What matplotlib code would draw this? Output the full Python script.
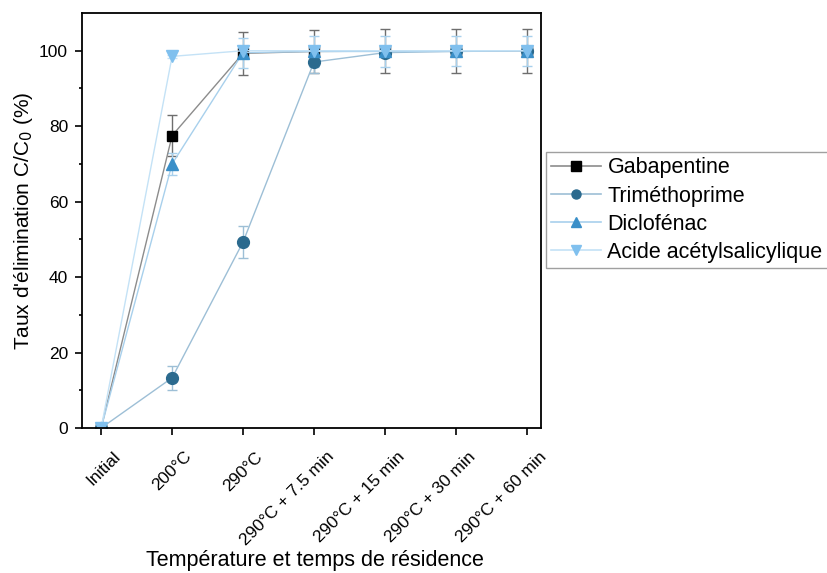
import matplotlib
matplotlib.use('Agg')
import matplotlib.pyplot as plt
import matplotlib.transforms as mtransforms
from matplotlib.lines import Line2D
import numpy as np

plt.rcParams['font.family'] = ['Liberation Sans', 'DejaVu Sans']

conditions = ['Initial', '200°C', '290°C', '290°C + 7.5 min', '290°C + 15 min',
              '290°C + 30 min', '290°C + 60 min']

gabapentine = [0, 77.5, 99.3, 99.8, 99.9, 99.9, 100.0]
gabapentine_err = [0, 5.5, 5.7, 5.8, 5.8, 5.8, 5.8]
trimethoprime = [0, 13.3, 49.3, 97.0, 99.5, 99.8, 100.0]
trimethoprime_err = [0, 3.2, 4.2, 3.0, 1.0, 1.0, 1.0]
diclofenac = [0, 70.0, 99.5, 99.8, 99.8, 99.9, 100.0]
diclofenac_err = [0, 3.0, 4.0, 4.0, 4.0, 4.0, 4.0]
acide = [0, 98.5, 100.0, 100.0, 100.0, 100.0, 100.0]
acide_err = [0, 0.5, 0.5, 0.5, 0.5, 0.5, 0.5]

# name, values, errors, marker, marker colour, line colour, error colour, size
series = [
    ('Gabapentine', gabapentine, gabapentine_err, 's', '#000000', '#8c8c8c', '#6e6e6e', 7.5),
    ('Triméthoprime', trimethoprime, trimethoprime_err, 'o', '#2b6a8e', '#9dbfd6', '#9dbfd6', 8.5),
    ('Diclofénac', diclofenac, diclofenac_err, '^', '#3a8fc8', '#a8d0ec', '#a8d0ec', 8.5),
    ('Acide acétylsalicylique', acide, acide_err, 'v', '#80c0ee', '#c4e2f6', '#c4e2f6', 8.5),
]

fig = plt.figure(figsize=(8.27, 5.73), dpi=100)
ax = fig.add_axes([82/827, 1-428/573, (541-82)/827, (428-13)/573])

x = np.arange(len(conditions))
handles = []
for name, y, err, m, mc, lc, ec, ms in series:
    ax.errorbar(x, y, yerr=err, fmt='-', marker=m, color=lc, mfc=mc, mec=mc,
                ms=ms, lw=1, elinewidth=1, capsize=3.5, ecolor=ec)
    handles.append(Line2D([], [], color=lc, lw=1.2, marker=m, mfc=mc, mec=mc,
                          ms=6.5, label=name))

ax.set_xlim(-0.27, 6.2)
ax.set_ylim(0, 110)
ax.set_yticks([0, 20, 40, 60, 80, 100])
ax.set_yticks([10, 30, 50, 70, 90], minor=True)
ax.set_xticks(x)
ax.set_xticklabels(conditions, rotation=45, ha='right', rotation_mode='anchor')
ax.tick_params(labelsize=12.5, width=1.2, length=5, pad=5)
ax.tick_params(axis='x', pad=10)
ax.tick_params(which='minor', length=2.5, width=1.2)
for s in ax.spines.values():
    s.set_linewidth(1.3)

# nudge the slanted labels to the right of their ticks
shift = mtransforms.ScaledTranslation(0.12, 0, fig.dpi_scale_trans)
for lab in ax.get_xticklabels():
    lab.set_transform(lab.get_transform() + shift)

ax.set_xlabel('Température et temps de résidence', fontsize=15.5)
ax.xaxis.set_label_coords(0.508, -0.293)
ax.set_ylabel("Taux d'élimination C/C$_0$ (%)", fontsize=15, labelpad=3)

leg = ax.legend(handles=handles, loc='upper left', bbox_to_anchor=(1.011, 0.665),
                fontsize=15.5, frameon=True, fancybox=False, edgecolor='#888888',
                handlelength=2.3, borderpad=0.25, borderaxespad=0,
                labelspacing=0.33, handletextpad=0.3)
leg.get_frame().set_linewidth(1)

plt.savefig('out.png', dpi=100)
